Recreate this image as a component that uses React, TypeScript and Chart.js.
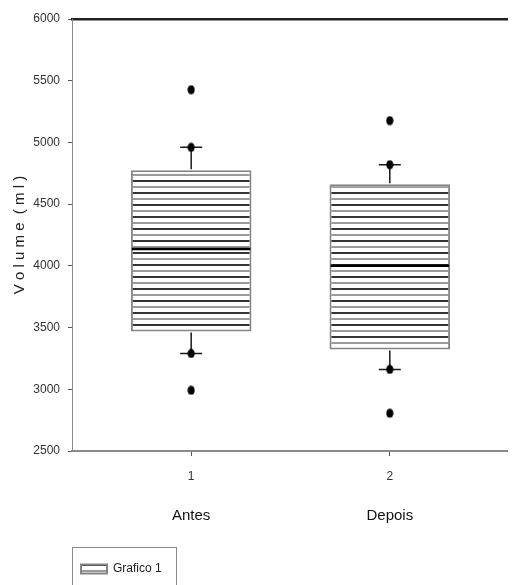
import React, { useEffect, useRef } from 'react';
import { Chart, registerables } from 'chart.js';

Chart.register(...registerables);

// ---- data ----
const categories = ['Antes', 'Depois'];
const positions = [1, 2];
const tickLabels = ['1', '2'];
const q1 = [3468, 3323];
const medians = [4137, 4000];
const q3 = [4774, 4661];
const whiskerLow = [3290, 3161];
const whiskerHigh = [4960, 4820];
const outliersAntes = [5427, 4960, 3290, 2992];
const outliersDepois = [5177, 4820, 3161, 2806];
const outliers = [outliersAntes, outliersDepois];
const yMin = 2500;
const yMax = 6000;
const yStep = 500;
const xMin = 0.4;
const xMax = 2.59;
const seriesLabel = 'Grafico 1';
const yTitle = 'V o l u m e  ( m l )';

const FONT = "'Liberation Sans', Arial, sans-serif";

function makeHatch(): CanvasPattern | string {
  const c = document.createElement('canvas');
  c.width = 8;
  c.height = 12;
  const g = c.getContext('2d');
  if (!g) return '#fff';
  g.fillStyle = '#ffffff';
  g.fillRect(0, 0, 8, 12);
  g.fillStyle = '#333333';
  g.fillRect(0, 0, 8, 2);
  g.fillStyle = '#9a9a9a';
  g.fillRect(0, 6, 8, 2);
  return g.createPattern(c, 'repeat') || '#fff';
}

function makeDot(): HTMLCanvasElement {
  const c = document.createElement('canvas');
  c.width = 8;
  c.height = 10;
  const g = c.getContext('2d');
  if (g) {
    g.fillStyle = '#000';
    g.beginPath();
    g.ellipse(4, 5, 3.6, 4.6, 0, 0, Math.PI * 2);
    g.fill();
  }
  return c;
}

const boxPlugin = {
  id: 'boxWhiskers',
  afterDatasetDraw(chart: any, args: any) {
    if (args.index !== 0) return;
    const { ctx } = chart;
    const x = chart.scales.x;
    const y = chart.scales.y;
    const meta = chart.getDatasetMeta(0);
    ctx.save();
    positions.forEach((p, i) => {
      const px = x.getPixelForValue(p);
      const bar = meta.data[i];
      const half = bar ? bar.width / 2 : 60;
      const top = y.getPixelForValue(q3[i]);
      const bottom = y.getPixelForValue(q1[i]);
      const hi = y.getPixelForValue(whiskerHigh[i]);
      const lo = y.getPixelForValue(whiskerLow[i]);
      ctx.strokeStyle = '#1a1a1a';
      ctx.lineWidth = 1.5;
      ctx.beginPath();
      ctx.moveTo(px, top - 1);
      ctx.lineTo(px, hi);
      ctx.moveTo(px - 11, hi);
      ctx.lineTo(px + 11, hi);
      ctx.moveTo(px, bottom + 1);
      ctx.lineTo(px, lo);
      ctx.moveTo(px - 11, lo);
      ctx.lineTo(px + 11, lo);
      ctx.stroke();
      const m = y.getPixelForValue(medians[i]);
      ctx.strokeStyle = '#000';
      ctx.lineWidth = 2.5;
      ctx.beginPath();
      ctx.moveTo(px - half + 1, m);
      ctx.lineTo(px + half - 1, m);
      ctx.stroke();
    });
    ctx.restore();
  },
};

const legendFrame = {
  id: 'legendFrame',
  afterDraw(chart: any) {
    const lg = chart.legend;
    if (!lg || !lg.legendHitBoxes || !lg.legendHitBoxes.length) return;
    const hb = lg.legendHitBoxes[0];
    const { ctx } = chart;
    const cy = hb.top + hb.height / 2;
    const left = Math.round(lg.left) + 0.5;
    const top = Math.round(cy - 22) + 0.5;
    const right = Math.round(hb.left + hb.width + 14) + 0.5;
    ctx.save();
    ctx.strokeStyle = '#8a8a8a';
    ctx.lineWidth = 1;
    ctx.strokeRect(left, top, right - left, chart.height - top + 10);
    ctx.restore();
  },
};

export default function App() {
  const ref = useRef<HTMLCanvasElement | null>(null);

  useEffect(() => {
    document.body.style.margin = '0';
    const canvas = ref.current;
    if (!canvas) return;
    Chart.defaults.font.family = FONT;
    const hatch = makeHatch();
    const dot = makeDot();

    const boxData = positions.map((p, i) => ({ x: p, y: [q1[i], q3[i]] }));
    const outlierData = positions.flatMap((p, i) => outliers[i].map((v) => ({ x: p, y: v })));

    const chart = new Chart(canvas, {
      type: 'bar',
      data: {
        datasets: [
          {
            type: 'bar',
            label: seriesLabel,
            data: boxData as any,
            backgroundColor: hatch as any,
            borderColor: '#858585',
            borderWidth: 2,
            borderSkipped: false,
            barPercentage: 0.607,
            categoryPercentage: 1,
            order: 0,
          } as any,
          {
            type: 'scatter',
            label: 'outliers',
            data: outlierData as any,
            pointStyle: dot as any,
            pointRadius: 4,
            backgroundColor: '#000',
            borderColor: '#000',
            order: -1,
          } as any,
        ],
      },
      options: {
        animation: false,
        responsive: false,
        devicePixelRatio: 1,
        layout: { padding: { top: 19, right: 0, bottom: 0, left: 0 } },
        scales: {
          x: {
            type: 'linear',
            position: 'bottom',
            min: xMin,
            max: xMax,
            offset: false,
            afterBuildTicks: (s: any) => {
              s.ticks = positions.map((v) => ({ value: v }));
            },
            afterFit: (s: any) => {
              s.height = 36;
            },
            ticks: {
              callback: (v: any) => {
                const k = positions.indexOf(Number(v));
                return k >= 0 ? tickLabels[k] : '';
              },
              font: { size: 12 },
              color: '#333',
              padding: 13,
              maxRotation: 0,
            },
            grid: { display: true, drawOnChartArea: false, drawTicks: true, tickLength: 5, color: '#555', offset: false },
            border: { display: true, color: '#8a8a8a', width: 2 },
          },
          x2: {
            type: 'linear',
            position: 'bottom',
            min: xMin,
            max: xMax,
            offset: false,
            afterBuildTicks: (s: any) => {
              s.ticks = positions.map((v) => ({ value: v }));
            },
            afterFit: (s: any) => {
              s.height = 67;
            },
            ticks: {
              callback: (v: any) => {
                const k = positions.indexOf(Number(v));
                return k >= 0 ? categories[k] : '';
              },
              font: { size: 15 },
              color: '#111',
              padding: 20,
              maxRotation: 0,
            },
            grid: { display: false, drawTicks: false },
            border: { display: false },
          },
          xTop: {
            type: 'linear',
            position: 'top',
            min: xMin,
            max: xMax,
            afterFit: (s: any) => {
              s.height = 0;
            },
            ticks: { display: false },
            grid: { display: false, drawTicks: false },
            border: { display: true, color: '#222', width: 2.5 },
          },
          y: {
            type: 'linear',
            min: yMin,
            max: yMax,
            afterFit: (s: any) => {
              s.width = 72;
            },
            ticks: {
              stepSize: yStep,
              font: { size: 12 },
              color: '#333',
              padding: 8,
              callback: (v: any) => String(v),
            },
            grid: { display: true, drawOnChartArea: false, drawTicks: true, tickLength: 4, color: '#555' },
            border: { display: true, color: '#8a8a8a', width: 1 },
            title: {
              display: true,
              text: yTitle,
              font: { size: 15 },
              color: '#222',
              padding: { top: 11, bottom: 0 },
            },
          },
        },
        plugins: {
          legend: {
            display: true,
            position: 'bottom',
            align: 'start',
            fullSize: false,
            labels: {
              boxWidth: 26,
              boxHeight: 9,
              padding: 9,
              font: { size: 12 },
              color: '#222',
              filter: (item: any) => item.datasetIndex === 0,
            },
          },
          tooltip: { enabled: false },
        },
      } as any,
      plugins: [boxPlugin, legendFrame],
    });

    return () => {
      chart.destroy();
    };
  }, []);

  return (
    <div style={{ width: 512, height: 585, background: '#fff' }}>
      <canvas ref={ref} width={512} height={585} style={{ display: 'block' }} />
    </div>
  );
}
